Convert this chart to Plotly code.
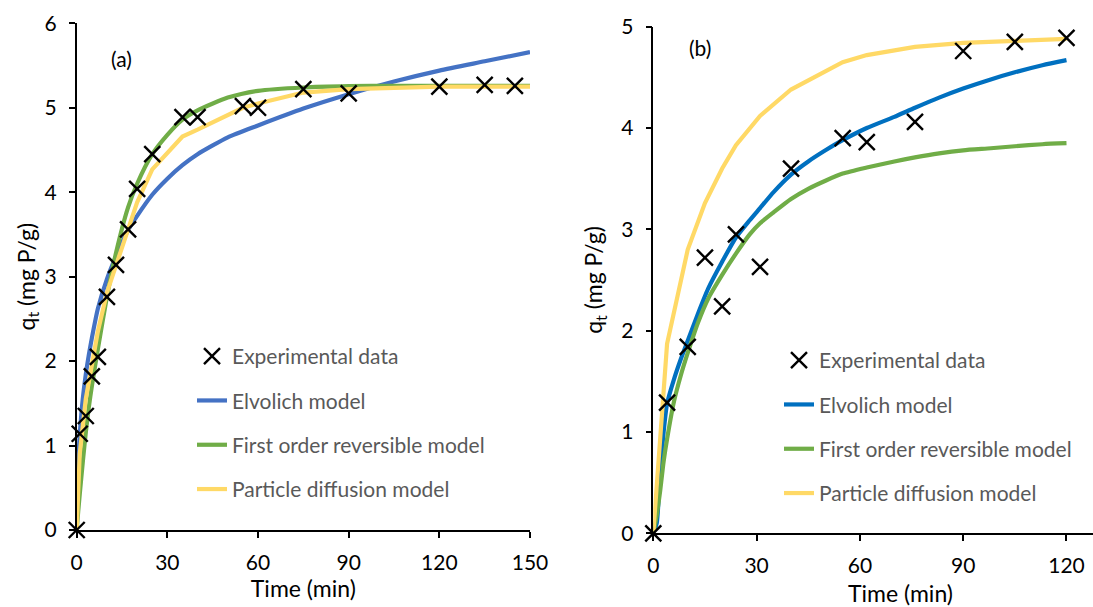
import plotly.graph_objects as go

# ---------------- Panel (a) data ----------------
t_exp_a = [0, 1, 3, 5, 7, 10, 13, 17, 20, 25, 35, 40, 55, 60, 75, 90, 120, 135, 145]
q_exp_a = [0, 1.14, 1.35, 1.82, 2.05, 2.76, 3.14, 3.56, 4.04, 4.45, 4.89, 4.89, 5.02, 5.00, 5.22, 5.17, 5.25, 5.27, 5.26]

t_fit_a = [0, 0.5, 1, 2, 3, 4, 5, 7, 10, 13, 17, 20, 25, 30, 35, 40, 50, 60, 75, 90, 105, 120, 135, 150]
elovich_a = [0, 0.80, 1.12, 1.55, 1.84, 2.07, 2.27, 2.62, 2.97, 3.24, 3.55, 3.72, 3.97, 4.16, 4.32, 4.45,
             4.65, 4.79, 4.99, 5.16, 5.31, 5.44, 5.55, 5.66]
first_order_a = [0, 0.22, 0.42, 0.80, 1.15, 1.45, 1.70, 2.14, 2.76, 3.28, 3.82, 4.10, 4.45, 4.68, 4.86, 4.97,
                 5.12, 5.20, 5.24, 5.255, 5.26, 5.26, 5.26, 5.26]
t_pd_a = [0, 1, 3, 5, 7, 10, 13, 17, 20, 25, 35, 40, 55, 60, 75, 90, 120, 135, 145, 150]
particle_a = [0, 0.90, 1.55, 1.95, 2.35, 2.81, 3.14, 3.57, 3.88, 4.27, 4.66, 4.74, 5.00, 5.05, 5.18, 5.22,
              5.25, 5.25, 5.25, 5.25]

# ---------------- Panel (b) data ----------------
t_exp_b = [0, 4, 10, 15, 20, 24, 31, 40, 55, 62, 76, 90, 105, 120]
q_exp_b = [0, 1.29, 1.84, 2.72, 2.24, 2.95, 2.63, 3.60, 3.90, 3.86, 4.06, 4.76, 4.85, 4.89]

t_fit_b = [0, 1, 2, 3, 4, 6, 8, 10, 13, 16, 20, 24, 28, 31, 35, 40, 45, 50, 55, 62, 70, 76, 83, 90, 98, 105, 113, 120]
elovich_b = [0, 0.10, 0.62, 1.00, 1.28, 1.52, 1.72, 1.90, 2.17, 2.42, 2.68, 2.92, 3.09, 3.21, 3.37, 3.54,
             3.67, 3.78, 3.88, 4.00, 4.11, 4.20, 4.30, 4.39, 4.48, 4.55, 4.62, 4.67]
first_order_b = [0, 0.18, 0.42, 0.71, 0.93, 1.30, 1.56, 1.78, 2.08, 2.32, 2.55, 2.76, 2.95, 3.06, 3.17, 3.30,
                 3.40, 3.48, 3.55, 3.61, 3.67, 3.71, 3.75, 3.78, 3.80, 3.82, 3.84, 3.85]
particle_b = [0, 1.87, 2.80, 3.26, 3.60, 3.83, 4.12, 4.38, 4.65, 4.72, 4.80, 4.84, 4.86, 4.88]

x_ticks_a = [0, 30, 60, 90, 120, 150]
x_ticks_b = [0, 30, 60, 90, 120]
y_ticks_a = [0, 1, 2, 3, 4, 5, 6]
y_ticks_b = [0, 1, 2, 3, 4, 5]

names = ["Experimental data", "Elvolich model", "First order reversible model", "Particle diffusion model"]

FONT = "Lato"
W, H = 1093, 607
LW = 4.2

fig = go.Figure()


def add_panel(xa, ya, leg, t_fit, elo, fo, t_pd, pd_, t_exp, q_exp, blue):
    fig.add_trace(go.Scatter(x=t_fit, y=elo, mode="lines", name=names[1], line=dict(color=blue, width=LW),
                             xaxis=xa, yaxis=ya, legend=leg, legendrank=2, legendgroup=leg + "b",
                             cliponaxis=False, line_shape="spline", line_smoothing=0.6))
    fig.add_trace(go.Scatter(x=t_fit, y=fo, mode="lines", name=names[2], line=dict(color="#70AD47", width=LW),
                             xaxis=xa, yaxis=ya, legend=leg, legendrank=3, legendgroup=leg + "c",
                             cliponaxis=False, line_shape="spline", line_smoothing=0.6))
    fig.add_trace(go.Scatter(x=t_pd, y=pd_, mode="lines", name=names[3], line=dict(color="#FFD966", width=LW),
                             xaxis=xa, yaxis=ya, legend=leg, legendrank=4, legendgroup=leg + "d",
                             cliponaxis=False))
    fig.add_trace(go.Scatter(x=t_exp, y=q_exp, mode="markers", name=names[0],
                             marker=dict(symbol="x-thin", size=16, line=dict(color="black", width=2.4)),
                             xaxis=xa, yaxis=ya, legend=leg, legendrank=1, legendgroup=leg + "a",
                             cliponaxis=False))


add_panel("x", "y", "legend", t_fit_a, elovich_a, first_order_a, t_pd_a, particle_a, t_exp_a, q_exp_a, "#4472C4")
add_panel("x2", "y2", "legend2", t_fit_b, elovich_b, first_order_b, t_exp_b, particle_b, t_exp_b, q_exp_b, "#0070C0")

axis_common = dict(showline=True, linecolor="black", linewidth=1.5, ticks="outside", ticklen=6,
                   tickwidth=1.5, tickcolor="black", showgrid=False, zeroline=False, automargin=False,
                   tickfont=dict(family=FONT, size=21, color="black"))
title_font = dict(family=FONT, size=23, color="black")

legend_common = dict(font=dict(family=FONT, size=21, color="#595959"), bgcolor="rgba(0,0,0,0)",
                     tracegroupgap=14, traceorder="grouped", xanchor="left", yanchor="top",
                     itemwidth=30)

fig.update_layout(
    width=W, height=H,
    margin=dict(l=0, r=0, t=0, b=0, autoexpand=False),
    paper_bgcolor="white", plot_bgcolor="white",
    showlegend=True,
    xaxis=dict(domain=[76.7 / W, 530 / W], range=[0, 150], tickvals=x_ticks_a, anchor="y",
               ticklabelstandoff=7,
               title=dict(text="Time (min)", font=title_font, standoff=7),
               **axis_common),
    yaxis=dict(domain=[(H - 530) / H, (H - 23.3) / H], range=[0, 6], tickvals=y_ticks_a, anchor="x",
               ticklabelstandoff=8,
               title=dict(text="q<sub>t</sub> (mg P/g)", font=title_font, standoff=3),
               **axis_common),
    xaxis2=dict(domain=[653.3 / W, 1.0], range=[0, 127.7], tickvals=x_ticks_b, anchor="y2",
                ticklabelstandoff=7,
                **axis_common),
    yaxis2=dict(domain=[(H - 533.3) / H, (H - 26.7) / H], range=[0, 5], tickvals=y_ticks_b, anchor="x2",
                ticklabelstandoff=8,
                title=dict(text="q<sub>t</sub> (mg P/g)", font=title_font, standoff=12),
                **axis_common),
    legend=dict(x=192 / W, y=1 - 336 / H, **legend_common),
    legend2=dict(x=779 / W, y=1 - 340 / H, **legend_common),
    annotations=[
        dict(text="(a)", x=121 / W, y=1 - 58 / H, xref="paper", yref="paper", showarrow=False,
             xanchor="center", yanchor="middle", font=dict(family=FONT, size=21, color="black")),
        dict(text="(b)", x=700 / W, y=1 - 48 / H, xref="paper", yref="paper", showarrow=False,
             xanchor="center", yanchor="middle", font=dict(family=FONT, size=21, color="black")),
        dict(text="Time (min)", x=900 / W, y=1 - 593 / H, xref="paper", yref="paper", showarrow=False,
             xanchor="center", yanchor="middle", font=title_font),
    ],
)

fig.write_html("out.html")
